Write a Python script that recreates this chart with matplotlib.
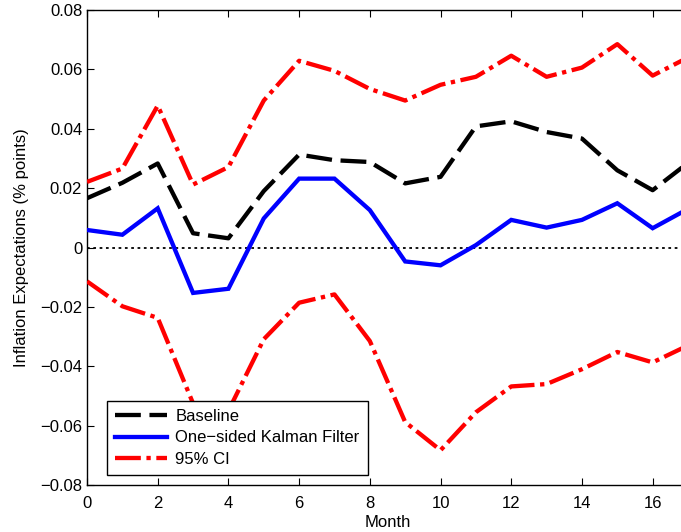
import matplotlib
matplotlib.use("Agg")
import matplotlib.pyplot as plt
import numpy as np

plt.rcParams['font.family'] = ['Liberation Sans', 'DejaVu Sans']

months = list(range(18))
baseline = [0.0166, 0.0218, 0.0283, 0.0048, 0.0031, 0.0190, 0.0313, 0.0294, 0.0288,
            0.0216, 0.0238, 0.0408, 0.0425, 0.0389, 0.0367, 0.0260, 0.0193, 0.0285]
kalman = [0.0059, 0.0043, 0.0132, -0.0153, -0.0139, 0.0098, 0.0232, 0.0232, 0.0126,
          -0.0047, -0.0060, 0.0008, 0.0093, 0.0067, 0.0093, 0.0149, 0.0065, 0.0130]
ci_upper = [0.0221, 0.0266, 0.0478, 0.0212, 0.0271, 0.0495, 0.0629, 0.0595, 0.0534,
            0.0495, 0.0548, 0.0575, 0.0646, 0.0575, 0.0606, 0.0685, 0.0579, 0.0640]
ci_lower = [-0.0114, -0.0198, -0.0237, -0.0525, -0.0550, -0.0309, -0.0186, -0.0158, -0.0315,
            -0.0588, -0.0683, -0.0555, -0.0468, -0.0460, -0.0410, -0.0352, -0.0387, -0.0330]

xticks = [0, 2, 4, 6, 8, 10, 12, 14, 16]
yticks = [-0.08, -0.06, -0.04, -0.02, 0, 0.02, 0.04, 0.06, 0.08]
ytick_labels = ['\u22120.08', '\u22120.06', '\u22120.04', '\u22120.02', '0',
                '0.02', '0.04', '0.06', '0.08']

fig = plt.figure(figsize=(6.81, 5.32), dpi=100)
ax = fig.add_axes([87/681, 47/532, 601/681, 475/532])

ax.axhline(0, color='black', linestyle=(0, (1.5, 2)), linewidth=1.3, zorder=1)
lb, = ax.plot(months, baseline, color='black', linewidth=3.1, dashes=(6, 2),
              label='Baseline', zorder=3)
lk, = ax.plot(months, kalman, color='#0000ff', linewidth=3.1, solid_joinstyle='miter',
              label='One\u2212sided Kalman Filter', zorder=3)
lu, = ax.plot(months, ci_upper, color='#ff0000', linewidth=3.1, dashes=(6, 1.3, 1, 1.3),
              label='95% CI', zorder=3)
ax.plot(months, ci_lower, color='#ff0000', linewidth=3.1, dashes=(6, 1.3, 1, 1.3), zorder=3)

ax.set_xlim(0, 17)
ax.set_ylim(-0.08, 0.08)
ax.set_xticks(xticks)
ax.set_xticklabels([str(t) for t in xticks])
ax.set_yticks(yticks)
ax.set_yticklabels(ytick_labels)
ax.tick_params(direction='in', length=5, width=0.8, labelsize=12, top=True, right=True,
               colors='black')
ax.tick_params(axis='x', pad=8)
for s in ax.spines.values():
    s.set_linewidth(1.0)

ax.set_xlabel('Month', fontsize=12, labelpad=3)
ax.set_ylabel('Inflation Expectations (% points)', fontsize=12, labelpad=8)

leg = ax.legend(handles=[lb, lk, lu], loc='lower left', bbox_to_anchor=(0.033, 0.021),
                fontsize=12, frameon=True, fancybox=False, framealpha=1,
                edgecolor='black', borderpad=0.5, labelspacing=0.38,
                handlelength=3.1, handletextpad=0.5, borderaxespad=0)
leg.get_frame().set_linewidth(1.0)

fig.savefig('out.png', dpi=100)
